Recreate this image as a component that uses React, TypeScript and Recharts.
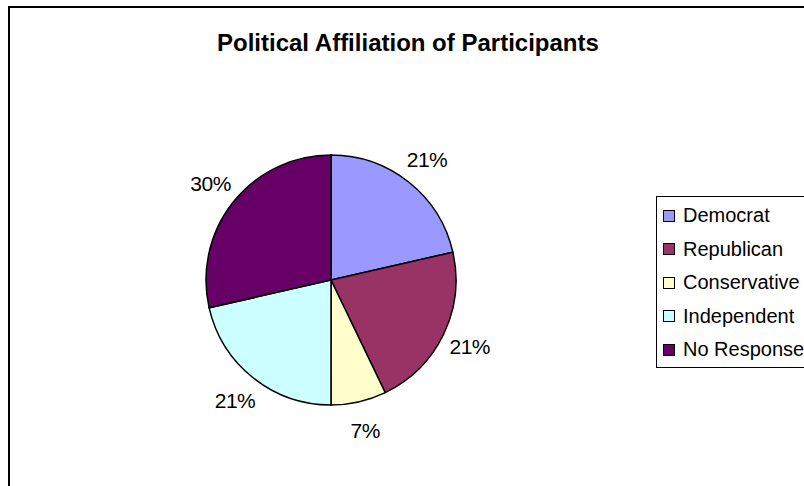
import React from "react"
import { PieChart, Pie, Cell, Legend } from "recharts"

const categories = ["Democrat", "Republican", "Conservative", "Independent", "No Response"]
const participants = [3, 3, 1, 3, 4]
const percentLabels = ["21%", "21%", "7%", "21%", "30%"]
const colors = ["#9999FF", "#993366", "#FFFFCC", "#CCFFFF", "#660066"]

const data = categories.map((name, i) => ({ name, value: participants[i] }))

const FONT = "'Liberation Sans', Arial, sans-serif"
const RADIAN = Math.PI / 180

const renderLabel = (props: any) => {
  const { cx, cy, midAngle, outerRadius, index } = props
  const r = outerRadius + 29
  const x = cx + r * Math.cos(-midAngle * RADIAN)
  const y = cy + r * Math.sin(-midAngle * RADIAN)
  return (
    <text x={x} y={y} textAnchor="middle" dominantBaseline="central" fill="#000" fontSize={21} fontFamily={FONT} letterSpacing={-0.5}>
      {percentLabels[index]}
    </text>
  )
}

// legend keeps the series order (recharts 3 sorts its payload by name)
const renderLegend = () => (
  <div
    style={{
      border: "1px solid #000",
      width: 200,
      height: 172,
      boxSizing: "border-box",
      paddingTop: 2,
      background: "#fff",
    }}
  >
    {categories.map((name, i) => (
      <div key={name} style={{ display: "flex", alignItems: "center", height: 33.5 }}>
        <span
          style={{
            display: "inline-block",
            width: 10,
            height: 10,
            marginLeft: 6,
            marginRight: 8,
            border: "1px solid #000",
            background: colors[i],
          }}
        />
        <span style={{ fontFamily: FONT, fontSize: 20, color: "#000", whiteSpace: "nowrap" }}>
          {name}
        </span>
      </div>
    ))}
  </div>
)

export default function App() {
  return (
    <div style={{ position: "absolute", left: 0, top: 0, width: 804, height: 486, overflow: "hidden", background: "#fff" }}>
      <div
        style={{
          position: "absolute",
          left: 8,
          top: 6,
          width: 830,
          height: 520,
          border: "2px solid #000",
        }}
      />
      <div
        style={{
          position: "absolute",
          left: 217,
          top: 29,
          fontFamily: FONT,
          fontWeight: "bold",
          fontSize: 24,
          whiteSpace: "nowrap",
          color: "#000",
        }}
      >
        Political Affiliation of Participants
      </div>
      <div style={{ position: "absolute", left: 0, top: 0 }}>
        <PieChart width={804} height={486} margin={{ top: 0, right: 0, bottom: 0, left: 0 }}>
          <Pie
            data={data}
            dataKey="value"
            nameKey="name"
            cx={331}
            cy={280}
            outerRadius={125}
            startAngle={90}
            endAngle={-270}
            stroke="#000"
            strokeWidth={1.5}
            label={renderLabel}
            labelLine={false}
            isAnimationActive={false}
          >
            {data.map((d, i) => (
              <Cell key={d.name} fill={colors[i]} />
            ))}
          </Pie>
          <Legend
            layout="vertical"
            align="right"
            verticalAlign="top"
            content={renderLegend}
            wrapperStyle={{ position: "absolute", left: 656, top: 196, width: 200 }}
          />
        </PieChart>
      </div>
    </div>
  )
}
